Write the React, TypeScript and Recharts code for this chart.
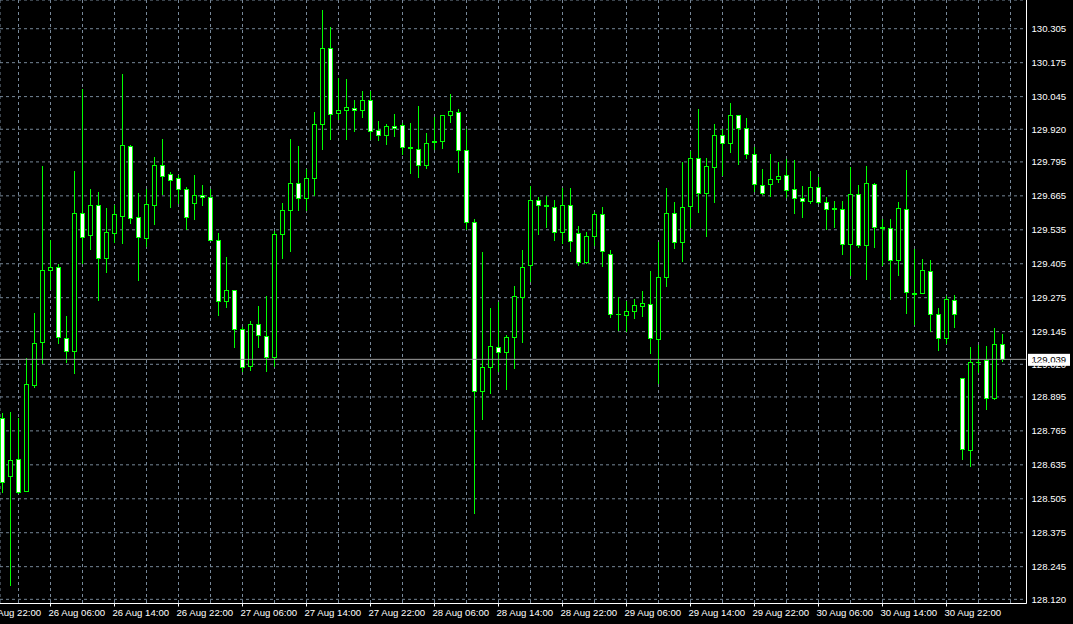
import { ComposedChart, Bar, XAxis, YAxis, CartesianGrid, ReferenceLine } from 'recharts'

// hourly candles, 25 Aug 22:00 .. 31 Aug
const opens = [
  128.813, 128.594, 128.656, 128.536, 128.942, 129.104, 129.382, 129.394, 129.120, 129.069,
  129.598, 129.516, 129.629, 129.428, 129.524, 129.589, 129.855, 129.583, 129.505, 129.631,
  129.782, 129.748, 129.732, 129.690, 129.637, 129.667, 129.660, 129.496, 129.261, 129.303,
  129.155, 129.014, 129.174, 129.127, 129.048, 129.518, 129.610, 129.713, 129.656, 129.732,
  129.939, 130.230, 129.981, 129.993, 130.000, 129.993, 130.031, 129.916, 129.897, 129.931,
  129.935, 129.851, 129.843, 129.782, 129.874, 129.876, 129.974, 129.985, 129.840, 129.564,
  128.917, 129.009, 129.085, 129.066, 129.124, 129.277, 129.399, 129.648, 129.629, 129.621,
  129.526, 129.629, 129.522, 129.411, 129.510, 129.594, 129.441, 129.213, 129.208, 129.223,
  129.242, 129.250, 129.116, 129.353, 129.598, 129.487, 129.625, 129.809, 129.675, 129.774,
  129.897, 129.866, 129.974, 129.924, 129.824, 129.706, 129.709, 129.728, 129.744, 129.690,
  129.656, 129.644, 129.698, 129.640, 129.617, 129.614, 129.480, 129.671, 129.476, 129.709,
  129.545, 129.541, 129.418, 129.614, 129.292, 129.292, 129.376, 129.212, 129.120, 129.265,
  128.967, 128.691, 129.030, 129.035, 128.890, 129.097,
]
const highs = [
  128.832, 128.839, 128.813, 129.043, 129.215, 129.778, 129.496, 129.405, 129.205, 129.760,
  130.074, 129.691, 129.679, 129.619, 129.630, 130.132, 129.860, 129.675, 129.691, 129.813,
  129.883, 129.755, 129.744, 129.698, 129.745, 129.706, 129.690, 129.523, 129.430, 129.303,
  129.164, 129.185, 129.243, 129.282, 129.529, 129.637, 129.882, 129.856, 129.767, 129.985,
  130.376, 130.310, 130.115, 130.111, 130.032, 130.065, 130.065, 129.951, 129.939, 129.977,
  129.943, 129.943, 130.008, 129.905, 129.966, 129.974, 130.054, 129.997, 129.920, 129.575,
  129.449, 129.235, 129.258, 129.131, 129.319, 129.457, 129.702, 129.660, 129.663, 129.648,
  129.694, 129.694, 129.548, 129.526, 129.602, 129.621, 129.457, 129.277, 129.261, 129.269,
  129.300, 129.376, 129.487, 129.694, 129.640, 129.794, 129.836, 129.997, 129.809, 129.939,
  129.920, 130.019, 129.974, 129.962, 129.851, 129.767, 129.824, 129.794, 129.805, 129.801,
  129.702, 129.759, 129.736, 129.660, 129.644, 129.644, 129.774, 129.706, 129.778, 129.713,
  129.575, 129.575, 129.640, 129.764, 129.460, 129.422, 129.418, 129.235, 129.281, 129.284,
  128.967, 129.085, 129.093, 129.089, 129.158, 129.135,
]
const lows = [
  128.532, 128.175, 128.526, 128.536, 128.934, 129.026, 129.308, 129.103, 129.030, 128.988,
  129.408, 129.462, 129.266, 129.374, 129.488, 129.485, 129.562, 129.343, 129.473, 129.557,
  129.672, 129.624, 129.637, 129.539, 129.575, 129.629, 129.496, 129.208, 129.238, 129.085,
  128.994, 128.998, 129.085, 128.994, 129.014, 129.426, 129.453, 129.610, 129.610, 129.667,
  129.843, 129.882, 129.958, 129.882, 129.915, 129.966, 129.882, 129.878, 129.862, 129.893,
  129.824, 129.754, 129.738, 129.771, 129.843, 129.847, 129.947, 129.755, 129.537, 128.452,
  128.812, 128.909, 128.993, 128.924, 129.005, 129.104, 129.338, 129.518, 129.545, 129.495,
  129.483, 129.453, 129.399, 129.408, 129.476, 129.395, 129.200, 129.150, 129.147, 129.196,
  129.204, 129.062, 128.947, 129.319, 129.464, 129.417, 129.545, 129.602, 129.510, 129.640,
  129.744, 129.832, 129.786, 129.809, 129.682, 129.671, 129.663, 129.717, 129.660, 129.598,
  129.583, 129.637, 129.637, 129.537, 129.545, 129.441, 129.361, 129.470, 129.348, 129.468,
  129.399, 129.271, 129.363, 129.218, 129.176, 129.303, 129.149, 129.076, 129.101, 129.164,
  128.656, 128.630, 128.990, 128.848, 128.886, 129.032,
]
const closes = [
  128.571, 128.652, 128.532, 128.943, 129.101, 129.382, 129.394, 129.126, 129.069, 129.598,
  129.509, 129.629, 129.428, 129.526, 129.594, 129.859, 129.581, 129.506, 129.633, 129.782,
  129.742, 129.727, 129.690, 129.583, 129.667, 129.660, 129.496, 129.261, 129.303, 129.155,
  129.010, 129.174, 129.131, 129.048, 129.518, 129.610, 129.713, 129.656, 129.732, 129.939,
  130.230, 129.977, 129.993, 130.004, 129.993, 130.031, 129.912, 129.897, 129.931, 129.924,
  129.851, 129.847, 129.782, 129.866, 129.871, 129.974, 129.989, 129.840, 129.564, 128.917,
  129.009, 129.089, 129.066, 129.124, 129.281, 129.394, 129.648, 129.629, 129.626, 129.526,
  129.629, 129.491, 129.411, 129.510, 129.594, 129.453, 129.212, 129.211, 129.223, 129.246,
  129.254, 129.120, 129.353, 129.598, 129.487, 129.621, 129.809, 129.675, 129.778, 129.897,
  129.866, 129.974, 129.924, 129.824, 129.709, 129.675, 129.728, 129.740, 129.686, 129.656,
  129.644, 129.698, 129.640, 129.614, 129.615, 129.480, 129.671, 129.476, 129.713, 129.545,
  129.542, 129.418, 129.617, 129.296, 129.289, 129.382, 129.212, 129.120, 129.269, 129.212,
  128.695, 129.028, 129.028, 128.890, 129.097, 129.039,
]

const xTickBars = [-2, 6, 14, 22, 30, 38, 46, 54, 62, 70, 78, 86, 94, 102, 110, 118]
const xTickLabels = [
  '25 Aug 22:00', '26 Aug 06:00', '26 Aug 14:00', '26 Aug 22:00', '27 Aug 06:00', '27 Aug 14:00',
  '27 Aug 22:00', '28 Aug 06:00', '28 Aug 14:00', '28 Aug 22:00', '29 Aug 06:00', '29 Aug 14:00',
  '29 Aug 22:00', '30 Aug 06:00', '30 Aug 14:00', '30 Aug 22:00',
]
const yTicks = [
  130.305, 130.175, 130.045, 129.920, 129.795, 129.665, 129.535, 129.405, 129.275,
  129.145, 129.020, 128.895, 128.765, 128.635, 128.505, 128.375, 128.245, 128.120,
]
const bidPrice = 129.039

const xDomain = [-0.3125, 128]
const yDomain = [128.104, 130.415]
const gridBars = Array.from({ length: 32 }, (_, k) => 2 + k * 4)

const GREEN = '#00ff00'
const GRID = '#778899'
const FONT = '"Liberation Sans", Arial, sans-serif'
const FONT_SIZE = 9.6

const data = opens.map((open, i) => ({
  i,
  open,
  high: highs[i],
  low: lows[i],
  close: closes[i],
  range: [lows[i], highs[i]],
}))

function Candle(props: any) {
  const { x, y, width, height, payload } = props
  const { open, close, high, low } = payload
  // snap the wick onto a pixel column
  const cx = Math.round(x + width / 2) - 0.5
  const top = Math.min(y, y + height)
  const h = Math.abs(height)
  const py = (p: number) => top + ((high - p) / (high - low)) * h
  const yA = Math.round(py(Math.max(open, close))) + 0.5
  const yB = Math.round(py(Math.min(open, close))) + 0.5
  const bull = close >= open
  return (
    <g>
      <line x1={cx} x2={cx} y1={Math.round(top)} y2={Math.round(top + h) + 1} stroke={GREEN} strokeWidth={1} />
      {yB - yA < 1 ? (
        <line x1={cx - 2.5} x2={cx + 2.5} y1={yA} y2={yA} stroke={GREEN} strokeWidth={1} />
      ) : (
        <rect
          x={cx - 2}
          y={yA}
          width={4}
          height={yB - yA}
          fill={bull ? '#000000' : '#ffffff'}
          stroke={GREEN}
          strokeWidth={1}
        />
      )}
    </g>
  )
}

function XTick(props: any) {
  const { x, y, payload } = props
  const label = xTickLabels[xTickBars.indexOf(payload.value)]
  return (
    <text x={x - 2} y={y + 7} fill="#ffffff" fontSize={FONT_SIZE} fontFamily={FONT} textAnchor="start">
      {label}
    </text>
  )
}

function BidLabel(props: any) {
  const { viewBox } = props
  const right = viewBox.x + viewBox.width
  const yy = viewBox.y
  return (
    <g>
      <rect x={right + 1.5} y={yy - 5.5} width={42} height={12} fill="#ffffff" />
      <text x={right + 5} y={yy + 3.5} fill="#000000" fontSize={FONT_SIZE} fontFamily={FONT}>
        {bidPrice.toFixed(3)}
      </text>
    </g>
  )
}

export default function App() {
  return (
    <div style={{ position: 'absolute', left: 0, top: 0, width: 1073, height: 624, background: '#000000' }}>
      <ComposedChart width={1073} height={624} data={data} margin={{ top: 0, right: 0, bottom: 0, left: 0 }}>
        <XAxis
          xAxisId="grid"
          type="number"
          dataKey="i"
          domain={xDomain}
          allowDataOverflow
          ticks={gridBars}
          hide
        />
        <CartesianGrid xAxisId="grid" stroke={GRID} strokeDasharray="3 3" />
        <XAxis
          type="number"
          dataKey="i"
          domain={xDomain}
          allowDataOverflow
          ticks={xTickBars}
          interval={0}
          height={20.5}
          tickSize={3}
          tickMargin={2}
          tickLine={{ stroke: '#ffffff' }}
          axisLine={{ stroke: '#ffffff' }}
          tick={<XTick />}
        />
        <YAxis
          orientation="right"
          width={46.5}
          domain={yDomain}
          allowDataOverflow
          ticks={yTicks}
          interval={0}
          tickLine={false}
          tickSize={0}
          tickMargin={5}
          axisLine={{ stroke: '#ffffff' }}
          tick={{ fill: '#ffffff', fontSize: FONT_SIZE, fontFamily: FONT }}
          tickFormatter={(v: number) => v.toFixed(3)}
        />
        <Bar dataKey="range" barSize={5} shape={(p: any) => <Candle {...p} />} isAnimationActive={false} />
        <ReferenceLine y={bidPrice} stroke="#a0a0a0" label={<BidLabel />} />
      </ComposedChart>
    </div>
  )
}
